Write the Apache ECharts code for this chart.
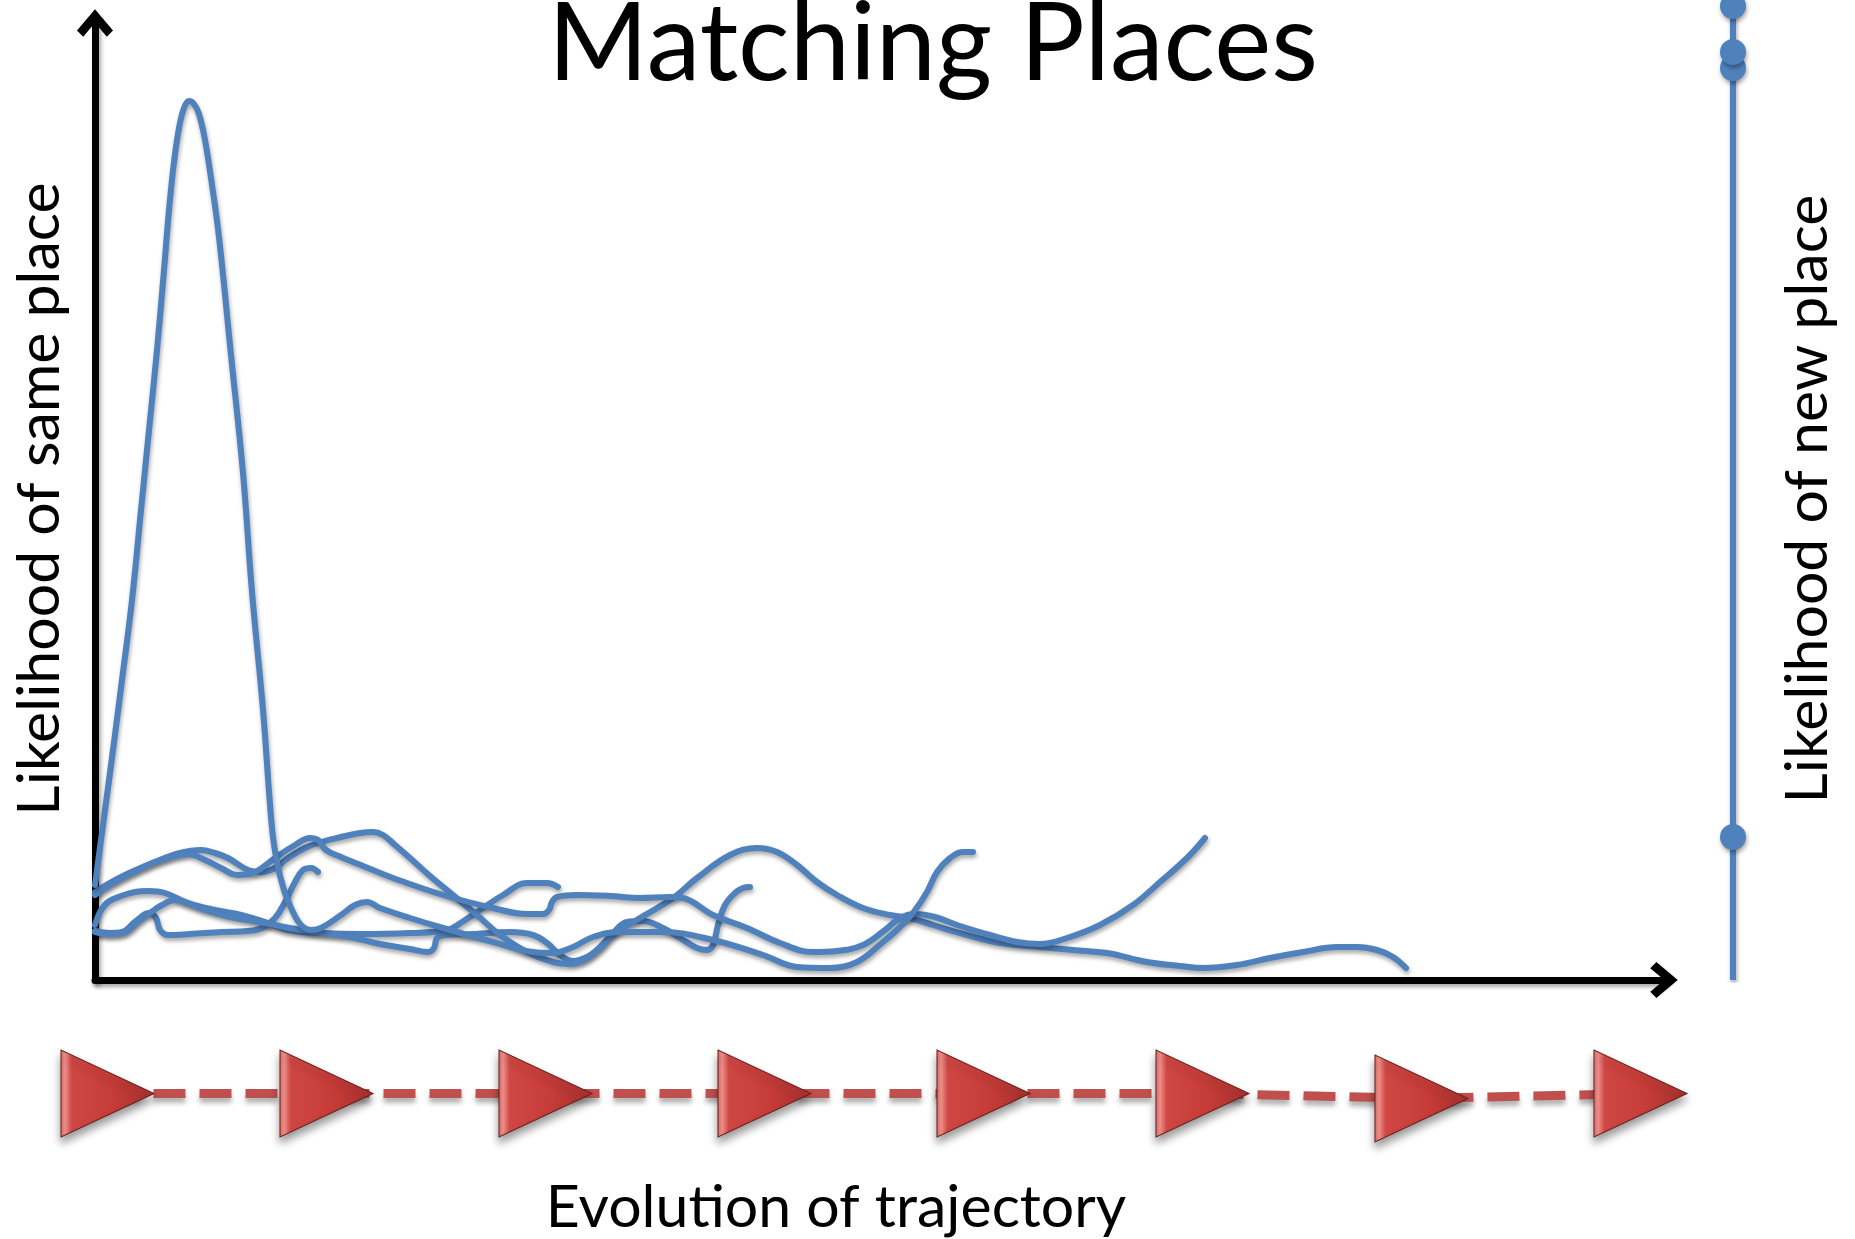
<!DOCTYPE html>
<html>
<head>
<meta charset="utf-8">
<script src="https://cdn.jsdelivr.net/npm/echarts@6/dist/echarts.min.js"></script>
<style>
  html, body { margin: 0; padding: 0; background: #ffffff; }
  #chart { width: 1855px; height: 1239px; }
</style>
</head>
<body>
<div id="chart"></div>
<script>
// Candidate-place likelihood traces: [distance along trajectory, likelihood of same place]
const traceSharpMatch = [[0,95],[4,125],[10,170],[18,230],[27,300],[37,380],[46,470],[54,550],[62,630],[69,710],[74,770],[79,818],[84,852],[89,872],[94,879],[99,876],[104,866],[110,840],[117,795],[124,743],[136,625],[148,507],[157,388],[168,270],[177,152],[182,118],[189,90],[197,70],[206,55],[216,50],[226,52],[246,65],[260,75],[272,78],[285,72],[315,62],[348,52],[398,38],[438,28],[458,27],[478,33],[498,43],[525,48],[568,48],[618,40],[668,25],[702,13],[735,12],[762,18],[788,38],[805,53],[818,67],[832,88],[842,108],[855,122],[868,128],[878,128]];
const traceLongRise = [[0,85],[20,98],[43,110],[60,118],[76,123],[93,126],[110,120],[126,112],[143,105],[160,108],[180,122],[200,135],[215,142],[223,140],[231,130],[246,123],[273,112],[298,102],[348,85],[398,72],[432,66],[448,66],[454,70],[457,78],[462,83],[482,85],[515,84],[545,82],[575,83],[588,82],[618,65],[652,52],[685,37],[718,28],[742,29],[768,35],[790,50],[805,62],[820,66],[840,63],[865,54],[895,45],[922,38],[945,36],[972,42],[1005,55],[1038,75],[1065,98],[1092,122],[1110,142]];
const traceLongTail = [[0,88],[26,103],[60,118],[85,127],[106,130],[120,127],[133,122],[153,110],[166,108],[180,112],[193,122],[210,132],[226,138],[246,143],[265,147],[278,148],[288,145],[300,135],[315,122],[335,104],[358,85],[382,65],[405,45],[432,28],[458,18],[475,16],[492,22],[505,32],[518,45],[545,62],[578,82],[602,102],[635,125],[662,132],[682,128],[702,115],[722,98],[742,85],[768,72],[795,65],[815,62],[838,55],[872,45],[905,37],[945,33],[978,30],[1012,27],[1052,18],[1085,14],[1108,12],[1142,15],[1175,22],[1208,28],[1242,33],[1262,33],[1282,30],[1298,23],[1311,12]];
const traceShortHook = [[0,49],[15,47],[27,48],[41,59],[54,67],[61,62],[65,50],[73,45],[95,46],[127,48],[153,49],[167,52],[180,62],[190,78],[200,98],[208,110],[216,112],[223,108]];
const traceMidHook = [[0,48],[15,46],[30,48],[45,60],[55,67],[67,75],[80,80],[93,77],[110,70],[135,63],[165,58],[195,52],[225,47],[255,43],[285,36],[315,31],[333,28],[339,32],[342,42],[350,45],[380,46],[415,48],[438,45],[452,37],[465,25],[478,19],[492,23],[505,33],[518,47],[532,58],[548,59],[568,52],[585,42],[602,32],[612,30],[618,35],[623,55],[630,75],[640,87],[648,92],[655,93]];
const traceLowStep = [[0,55],[5,68],[13,78],[26,84],[40,88],[53,89],[70,87],[93,77],[120,70],[146,65],[173,57],[193,50],[226,47],[265,46],[315,47],[352,50],[367,58],[382,68],[408,85],[432,97],[452,97],[463,93]];

// Likelihood of a new place, on the same vertical scale
const newPlaceLikelihood = [143, 912, 928, 974];
const newPlaceRange = [0, 980];

// Trajectory steps and their vertical offsets
const trajectorySteps = [0, 1, 2, 3, 4, 5, 6, 7];
const stepOffsets = [0, 0, 0, 0, 0, 0, -0.115, 0];

const BLUE = '#4F81BD';
const RED = '#C0504D';
const FONT = 'Lato, "Open Sans", sans-serif';
// open chevron arrow head, pointing up
const ARROW = 'path://M16,0 L32,19 L26.5,24.5 L16,12 L5.5,24.5 L0,19 Z';

const curveShadow = { shadowColor: 'rgba(0,0,0,0.35)', shadowBlur: 4, shadowOffsetX: 1, shadowOffsetY: 3 };

const traces = [traceLowStep, traceShortHook, traceMidHook, traceLongTail, traceLongRise, traceSharpMatch];
const traceSeries = traces.map(function (d) {
  return {
    type: 'line', xAxisIndex: 0, yAxisIndex: 0, data: d,
    smooth: 0.4, symbol: 'none', showSymbol: false, silent: true, z: 3,
    lineStyle: Object.assign({ color: BLUE, width: 6, cap: 'round' }, curveShadow)
  };
});

const axisLineMain = {
  show: true, onZero: false,
  symbol: ['none', ARROW], symbolSize: [36, 28],
  lineStyle: { color: '#000000', width: 7, shadowColor: 'rgba(0,0,0,0.35)', shadowBlur: 4, shadowOffsetX: 2, shadowOffsetY: 3 }
};

const stepData = trajectorySteps.map(function (s, i) { return [s, stepOffsets[i]]; });

const chart = echarts.init(document.getElementById('chart'), null, { renderer: 'canvas' });
chart.setOption({
  animation: false,
  backgroundColor: '#ffffff',
  grid: [
    { left: 95, right: 191, top: 23, bottom: 259 },
    { left: 1700, width: 66, top: 0, bottom: 259 },
    { left: 107.5, width: 1533, top: 1050, height: 87 }
  ],
  xAxis: [
    { gridIndex: 0, type: 'value', min: 0, max: 1569, axisLine: axisLineMain,
      axisTick: { show: false }, axisLabel: { show: false }, splitLine: { show: false } },
    { gridIndex: 1, type: 'value', min: -1, max: 1, show: false },
    { gridIndex: 2, type: 'value', min: 0, max: 7, show: false }
  ],
  yAxis: [
    { gridIndex: 0, type: 'value', min: 0, max: 957, axisLine: axisLineMain,
      axisTick: { show: false }, axisLabel: { show: false }, splitLine: { show: false } },
    { gridIndex: 1, type: 'value', min: newPlaceRange[0], max: newPlaceRange[1], show: false },
    { gridIndex: 2, type: 'value', min: -1, max: 1, show: false }
  ],
  series: traceSeries.concat([
    {
      type: 'line', xAxisIndex: 1, yAxisIndex: 1,
      data: [[0, newPlaceRange[0]], [0, newPlaceRange[1]]],
      symbol: 'none', silent: true, z: 3,
      lineStyle: Object.assign({ color: BLUE, width: 6 }, curveShadow)
    },
    {
      type: 'scatter', xAxisIndex: 1, yAxisIndex: 1,
      data: newPlaceLikelihood.map(function (v) { return [0, v]; }),
      symbol: 'circle', symbolSize: 26, silent: true, z: 4,
      itemStyle: Object.assign({ color: BLUE, opacity: 1 }, curveShadow)
    },
    {
      type: 'line', xAxisIndex: 2, yAxisIndex: 2, data: stepData,
      symbol: 'none', silent: true, z: 2,
      lineStyle: { color: RED, width: 9, type: [32, 14], shadowColor: 'rgba(0,0,0,0.3)', shadowBlur: 5, shadowOffsetY: 5 }
    },
    {
      type: 'scatter', xAxisIndex: 2, yAxisIndex: 2, data: stepData,
      symbol: 'triangle', symbolRotate: -90, symbolSize: [87, 93], silent: true, z: 3,
      itemStyle: {
        color: new echarts.graphic.LinearGradient(0, 0, 0, 1, [
          { offset: 0, color: '#a9312e' },
          { offset: 0.45, color: '#c63c38' },
          { offset: 0.88, color: '#cf4743' },
          { offset: 0.95, color: '#f2918b' },
          { offset: 1, color: '#dd6f6a' }
        ]),
        borderColor: '#6b201d', borderWidth: 1, opacity: 1,
        shadowColor: 'rgba(0,0,0,0.4)', shadowBlur: 8, shadowOffsetY: 6
      }
    }
  ]),
  graphic: [
    { type: 'text', x: 933, y: 45, silent: true,
      style: { text: 'Matching Places', font: '108px ' + FONT, fill: '#000000',
               textAlign: 'center', textVerticalAlign: 'middle', align: 'center', verticalAlign: 'middle' } },
    { type: 'text', x: 40, y: 499, rotation: Math.PI / 2, silent: true,
      style: { text: 'Likelihood of same place', font: '59px ' + FONT, fill: '#000000',
               textAlign: 'center', textVerticalAlign: 'middle', align: 'center', verticalAlign: 'middle' } },
    { type: 'text', x: 1808, y: 499, rotation: Math.PI / 2, silent: true,
      style: { text: 'Likelihood of new place', font: '59px ' + FONT, fill: '#000000',
               textAlign: 'center', textVerticalAlign: 'middle', align: 'center', verticalAlign: 'middle' } },
    { type: 'text', x: 836, y: 1208, silent: true,
      style: { text: 'Evolution of trajectory', font: '59px ' + FONT, fill: '#000000',
               textAlign: 'center', textVerticalAlign: 'middle', align: 'center', verticalAlign: 'middle' } }
  ]
});
</script>
</body>
</html>
